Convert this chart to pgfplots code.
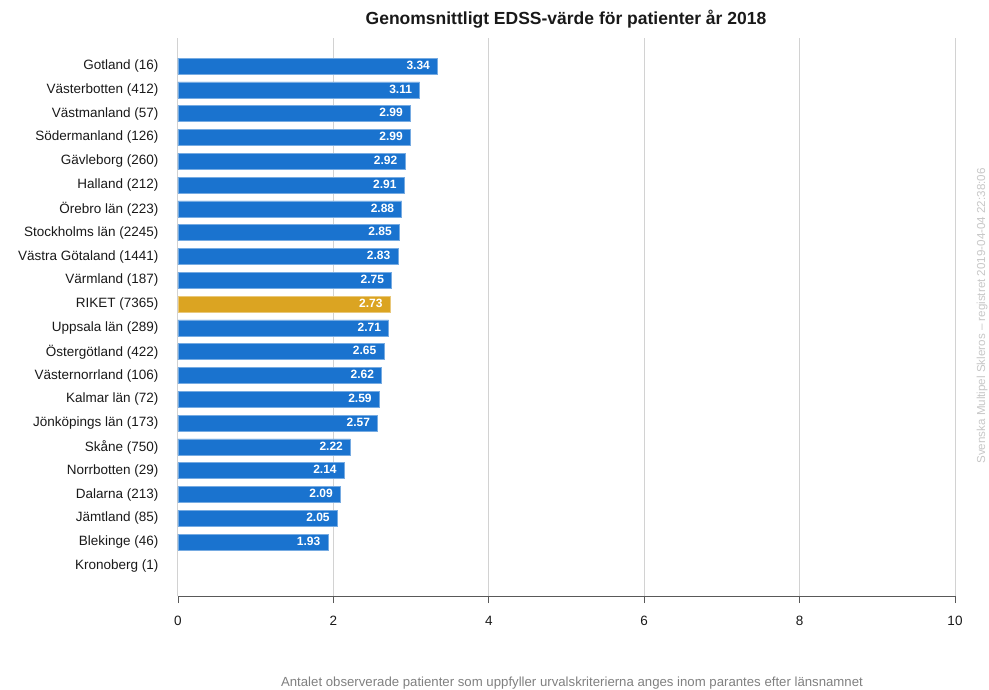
\documentclass[border=0pt]{standalone}
\usepackage{pgfplots}
\pgfplotsset{compat=1.18}
\usepackage{fontspec}
\setmainfont{Liberation Sans}
\definecolor{barblue}{RGB}{26,115,207}
\definecolor{bargold}{RGB}{219,164,34}
\definecolor{gridgray}{RGB}{210,210,210}
\begin{document}
\begin{tikzpicture}
\path[use as bounding box] (0,0) rectangle (989pt,689pt);
\begin{axis}[
  at={(178pt,93pt)}, anchor=south west,
  scale only axis, width=777pt, height=558pt,
  xmin=0, xmax=10, ymin=-1.26, ymax=22.18,
  xtick={0,2,4,6,8,10},
  ytick={0,...,21},
  yticklabels={Kronoberg (1), Blekinge (46), Jämtland (85), Dalarna (213), Norrbotten (29), Skåne (750), Jönköpings län (173), Kalmar län (72), Västernorrland (106), Östergötland (422), Uppsala län (289), RIKET (7365), Värmland (187), Västra Götaland (1441), Stockholms län (2245), Örebro län (223), Halland (212), Gävleborg (260), Södermanland (126), Västmanland (57), Västerbotten (412), Gotland (16)},
  axis x line*=bottom, axis y line*=left,
  y axis line style={draw=none},
  x axis line style={draw=black!65, line width=0.9pt},
  tick align=outside, major tick length=7pt,
  xtick style={draw=black!65, line width=0.9pt},
  ytick style={draw=none},
  xmajorgrids, major grid style={draw=gridgray, line width=1pt},
  tick label style={font=\fontsize{13.5}{15}\selectfont, text=black!90},
  yticklabel style={xshift=-9pt},
  xticklabel style={yshift=-10pt},
  /pgf/number format/assume math mode=true,
  clip=false,
]
\addplot[xbar, bar shift=0pt, bar width=16pt, fill=barblue, draw=barblue!60!white, line width=0.6pt,
  point meta=x, nodes near coords,
  nodes near coords style={font=\bfseries\fontsize{12}{14}\selectfont, text=white, anchor=east, xshift=-4pt, yshift=1pt,
    /pgf/number format/.cd, fixed, fixed zerofill, precision=2}] coordinates {
(3.34,21) (3.11,20) (2.99,19) (2.99,18) (2.92,17) (2.91,16) (2.88,15) (2.85,14) (2.83,13) (2.75,12)
(2.71,10) (2.65,9) (2.62,8) (2.59,7) (2.57,6) (2.22,5) (2.14,4) (2.09,3) (2.05,2) (1.93,1)
};
\addplot[xbar, bar shift=0pt, bar width=16pt, fill=bargold, draw=bargold!60!white, line width=0.6pt,
  point meta=x, nodes near coords,
  nodes near coords style={font=\bfseries\fontsize{12}{14}\selectfont, text=white, anchor=east, xshift=-4pt, yshift=1pt,
    /pgf/number format/.cd, fixed, fixed zerofill, precision=2}] coordinates {
(2.73,11)
};
\end{axis}
\node[font=\bfseries\fontsize{17.5}{20}\selectfont, text=black!90] at (566pt,670pt) {Genomsnittligt EDSS-värde för patienter år 2018};
\node[font=\fontsize{13.2}{15}\selectfont, text=black!50] at (572pt,6pt) {Antalet observerade patienter som uppfyller urvalskriterierna anges inom parantes efter länsnamnet};
\node[font=\fontsize{11.6}{13}\selectfont, text=black!22, rotate=90] at (982pt,373pt) {Svenska Multipel Skleros – registret 2019-04-04 22:38:06};
\end{tikzpicture}
\end{document}
